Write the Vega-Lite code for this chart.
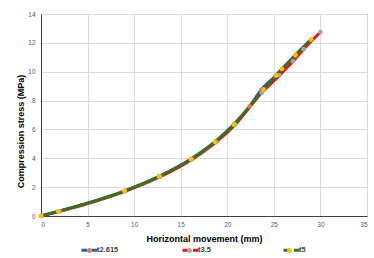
{
  "$schema": "https://vega.github.io/schema/vega-lite/v6.json",
  "width": 326,
  "height": 202,
  "autosize": {"type": "none"},
  "padding": {"left": 41, "top": 14, "right": 7, "bottom": 42},
  "background": "white",
  "config": {
    "view": {"stroke": "#404040", "strokeWidth": 1},
    "axis": {
      "gridColor": "#D9D9D9",
      "gridWidth": 1,
      "domainColor": "#404040",
      "ticks": false,
      "labelFont": "Liberation Sans",
      "labelFontSize": 6.5,
      "labelColor": "#595959",
      "titleFont": "Liberation Sans",
      "titleFontWeight": "bold",
      "titleFontSize": 9,
      "titleColor": "#000000"
    },
    "legend": {
      "labelFont": "Liberation Sans",
      "labelFontWeight": "bold",
      "labelFontSize": 7.5,
      "labelColor": "#404040"
    }
  },
  "data": {
    "values": [
      {"series": "t2.615", "x": 0, "y": 0},
      {"series": "t2.615", "x": 1.9, "y": 0.33},
      {"series": "t2.615", "x": 9.0, "y": 1.74},
      {"series": "t2.615", "x": 12.7, "y": 2.75},
      {"series": "t2.615", "x": 16.1, "y": 3.95},
      {"series": "t2.615", "x": 18.7, "y": 5.15},
      {"series": "t2.615", "x": 20.7, "y": 6.33},
      {"series": "t2.615", "x": 22.4, "y": 7.6},
      {"series": "t2.615", "x": 23.65, "y": 8.75},
      {"series": "t2.615", "x": 25.2, "y": 9.72},
      {"series": "t2.615", "x": 27.3, "y": 11.12},
      {"series": "t2.615", "x": 29.0, "y": 12.2},
      {"series": "t3.5", "x": 0, "y": 0},
      {"series": "t3.5", "x": 2.0, "y": 0.32},
      {"series": "t3.5", "x": 9.0, "y": 1.71},
      {"series": "t3.5", "x": 12.8, "y": 2.72},
      {"series": "t3.5", "x": 16.2, "y": 3.92},
      {"series": "t3.5", "x": 18.8, "y": 5.12},
      {"series": "t3.5", "x": 20.85, "y": 6.33},
      {"series": "t3.5", "x": 23.7, "y": 8.55},
      {"series": "t3.5", "x": 25.6, "y": 9.75},
      {"series": "t3.5", "x": 27.05, "y": 10.72},
      {"series": "t3.5", "x": 28.2, "y": 11.56},
      {"series": "t3.5", "x": 30.0, "y": 12.75},
      {"series": "t5", "x": 0, "y": 0},
      {"series": "t5", "x": 1.86, "y": 0.32},
      {"series": "t5", "x": 8.95, "y": 1.73},
      {"series": "t5", "x": 12.68, "y": 2.74},
      {"series": "t5", "x": 16.09, "y": 3.94},
      {"series": "t5", "x": 18.67, "y": 5.14},
      {"series": "t5", "x": 20.72, "y": 6.35},
      {"series": "t5", "x": 23.9, "y": 8.77},
      {"series": "t5", "x": 25.25, "y": 9.76},
      {"series": "t5", "x": 25.87, "y": 10.19},
      {"series": "t5", "x": 27.33, "y": 11.18},
      {"series": "t5", "x": 28.98, "y": 12.25}
    ]
  },
  "encoding": {
    "x": {
      "field": "x",
      "type": "quantitative",
      "scale": {"domain": [0, 35], "nice": false},
      "axis": {
        "values": [0, 5, 10, 15, 20, 25, 30, 35],
        "title": "Horizontal movement (mm)",
        "labelPadding": 5,
        "titlePadding": 7
      }
    },
    "y": {
      "field": "y",
      "type": "quantitative",
      "scale": {"domain": [0, 14], "nice": false},
      "axis": {
        "values": [0, 2, 4, 6, 8, 10, 12, 14],
        "title": "Compression stress (MPa)",
        "labelPadding": 6,
        "titlePadding": 2,
        "titleY": 117
      }
    }
  },
  "layer": [
    {
      "mark": {"type": "line", "interpolate": "monotone", "strokeWidth": 3},
      "encoding": {
        "stroke": {
          "field": "series",
          "type": "nominal",
          "scale": {"range": ["#2A5CA8", "#E8141C", "#3F6F1E"]},
          "legend": {
            "title": null,
            "orient": "none",
            "direction": "horizontal",
            "columns": 3,
            "gridAlign": "all",
            "columnPadding": 57,
            "legendX": 39,
            "legendY": 226.5,
            "symbolType": "M-1,0H-0.3M0.3,0H1",
            "symbolSize": 256,
            "symbolStrokeWidth": 3,
            "labelOffset": -2
          }
        }
      }
    },
    {
      "mark": {"type": "point", "filled": true, "opacity": 1, "size": 22},
      "encoding": {
        "fill": {
          "field": "series",
          "type": "nominal",
          "scale": {"domain": ["t2.615", "t3.5", "t5"], "range": ["#ED7D31", "#A5A5A5", "#FFC000"]},
          "legend": {
            "title": null,
            "orient": "none",
            "direction": "horizontal",
            "columns": 3,
            "gridAlign": "all",
            "columnPadding": 71,
            "legendX": 39,
            "legendY": 226.5,
            "symbolType": "M-1,0M1,0M-0.32,0A0.32,0.32 0 1,1 0.32,0A0.32,0.32 0 1,1 -0.32,0Z",
            "symbolSize": 256,
            "symbolStrokeWidth": 3,
            "symbolStrokeColor": "transparent",
            "symbolOpacity": 1,
            "labelOffset": -2,
            "labelExpr": "''"
          }
        }
      }
    }
  ]
}
